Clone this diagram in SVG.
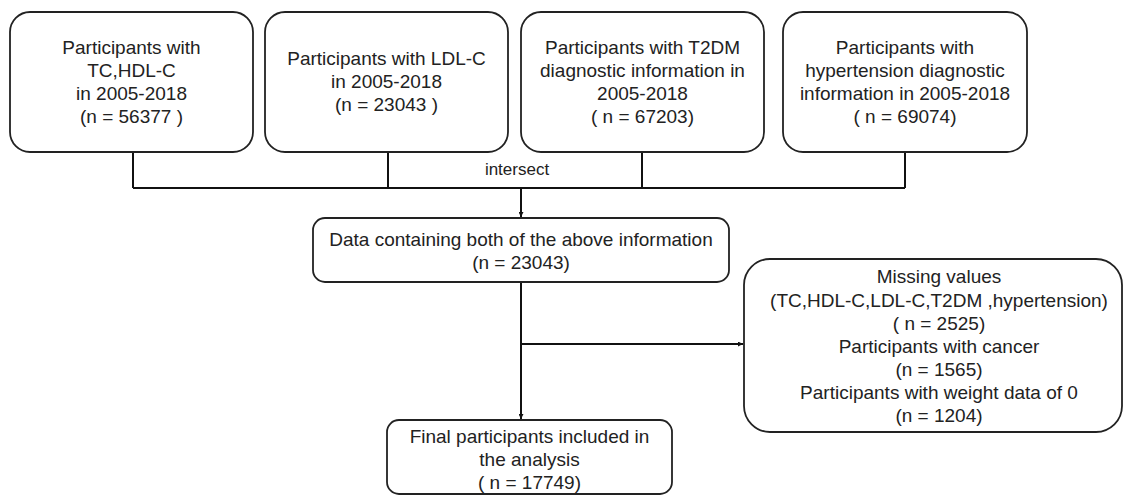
<svg xmlns="http://www.w3.org/2000/svg" width="1126" height="496" viewBox="0 0 1126 496">
<style>
.box{fill:#fff;stroke:#222;stroke-width:1.8}
.t{font-family:"Liberation Sans",Arial,sans-serif;font-size:19px;fill:#222;text-anchor:middle}
.lbl{font-family:"Liberation Sans",Arial,sans-serif;font-size:17px;fill:#222;text-anchor:middle}
.c{fill:none;stroke:#111;stroke-width:2}
</style>
<defs>
<marker id="arr" viewBox="0 0 10 10" refX="10" refY="5" markerWidth="5" markerHeight="5" orient="auto" markerUnits="userSpaceOnUse">
<path d="M0,0 L10,5 L0,10 z" fill="#111"/>
</marker>
</defs>
<rect width="1126" height="496" fill="#fff"/>
<g id="connectors">
<path class="c" d="M133,152 V188 M388,152 V188 M642,152 V188 M905,152 V188 M133,188 H905"/>
<path class="c" d="M521,188 V217" marker-end="url(#arr)"/>
<path class="c" d="M521,282 V419" marker-end="url(#arr)"/>
<path class="c" d="M521,344 H743" marker-end="url(#arr)"/>
<text class="lbl" x="517" y="175">intersect</text>
</g>
<g id="n1">
<rect class="box" x="10" y="12" width="243" height="140" rx="20"/>
<text class="t" x="131.5" y="54">Participants with</text>
<text class="t" x="131.5" y="77">TC,HDL-C</text>
<text class="t" x="131.5" y="100">in 2005-2018</text>
<text class="t" x="131.5" y="123">(n = 56377 )</text>
</g>
<g id="n2">
<rect class="box" x="265" y="12" width="243" height="140" rx="20"/>
<text class="t" x="386.5" y="65">Participants with LDL-C</text>
<text class="t" x="386.5" y="88">in 2005-2018</text>
<text class="t" x="386.5" y="111">(n = 23043 )</text>
</g>
<g id="n3">
<rect class="box" x="521" y="12" width="243" height="140" rx="20"/>
<text class="t" x="642.5" y="54">Participants with T2DM</text>
<text class="t" x="642.5" y="77">diagnostic information in</text>
<text class="t" x="642.5" y="100">2005-2018</text>
<text class="t" x="642.5" y="123">( n = 67203)</text>
</g>
<g id="n4">
<rect class="box" x="783" y="12" width="244" height="140" rx="20"/>
<text class="t" x="905" y="54">Participants with</text>
<text class="t" x="905" y="77">hypertension diagnostic</text>
<text class="t" x="905" y="100">information in 2005-2018</text>
<text class="t" x="905" y="123">( n = 69074)</text>
</g>
<g id="n5">
<rect class="box" x="313" y="218" width="416" height="64" rx="12"/>
<text class="t" x="521" y="246">Data containing both of the above information</text>
<text class="t" x="521" y="269">(n = 23043)</text>
</g>
<g id="n6">
<rect class="box" x="744" y="259" width="378" height="173" rx="26"/>
<text class="t" x="939" y="283">Missing values</text>
<text class="t" x="939" y="307">(TC,HDL-C,LDL-C,T2DM ,hypertension)</text>
<text class="t" x="939" y="330">( n = 2525)</text>
<text class="t" x="939" y="353">Participants with cancer</text>
<text class="t" x="939" y="376">(n = 1565)</text>
<text class="t" x="939" y="399">Participants with weight data of 0</text>
<text class="t" x="939" y="422">(n = 1204)</text>
</g>
<g id="n7">
<rect class="box" x="387" y="420" width="285" height="74" rx="12"/>
<text class="t" x="529.5" y="443">Final participants included in</text>
<text class="t" x="529.5" y="466">the analysis</text>
<text class="t" x="529.5" y="489">( n = 17749)</text>
</g>
</svg>
